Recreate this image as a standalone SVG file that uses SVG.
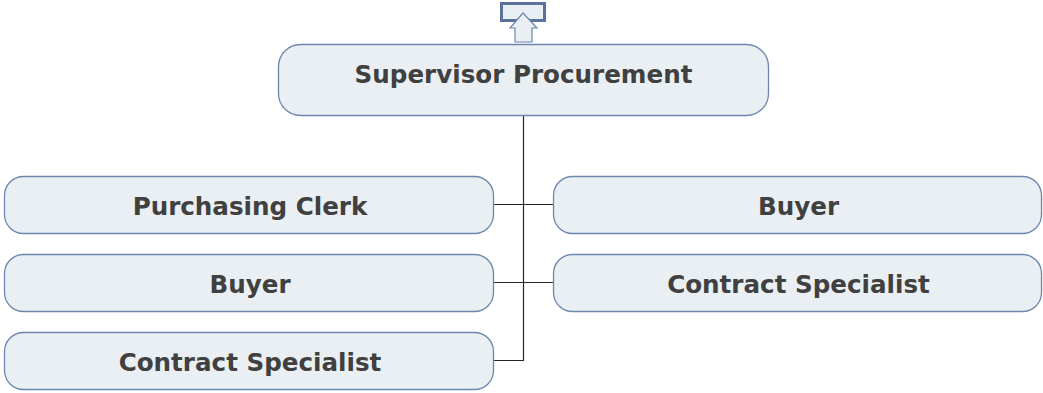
<svg xmlns="http://www.w3.org/2000/svg" width="1043" height="393" viewBox="0 0 1043 393">
<style>
.box{fill:#e9eff3;stroke:#6d86ad;stroke-width:1.3}
.t{font-family:"DejaVu Sans",sans-serif;font-weight:bold;font-size:24.6px;fill:#404040;text-anchor:middle}
.c{stroke:#262626;stroke-width:1.2;fill:none}
</style>
<rect width="1043" height="393" fill="#ffffff"/>
<g id="up-icon">
<rect x="501.5" y="3.5" width="43" height="17" fill="#e9eff3" stroke="#5c729c" stroke-width="3"/>
<polygon points="523,13 537,28 532,28 532,42 515,42 515,28 510,28" fill="#e9eff3" stroke="#6d86ad" stroke-width="1.2"/>
</g>
<g id="connectors">
<path class="c" d="M523.5,116 V360.5 H494"/>
<path class="c" d="M494,204.5 H553"/>
<path class="c" d="M494,282.5 H553"/>
</g>
<g id="n0"><rect class="box" x="278.5" y="44.5" width="490" height="71" rx="22"/><text class="t" x="523.5" y="82.5">Supervisor Procurement</text></g>
<g id="n1"><rect class="box" x="4.5" y="176.5" width="489" height="57" rx="19"/><text class="t" x="250" y="214.5">Purchasing Clerk</text></g>
<g id="n2"><rect class="box" x="4.5" y="254.5" width="489" height="57" rx="19"/><text class="t" x="250" y="292.5">Buyer</text></g>
<g id="n3"><rect class="box" x="4.5" y="332.5" width="489" height="57" rx="19"/><text class="t" x="250" y="370.5">Contract Specialist</text></g>
<g id="n4"><rect class="box" x="553.5" y="176.5" width="488" height="57" rx="19"/><text class="t" x="798.5" y="214.5">Buyer</text></g>
<g id="n5"><rect class="box" x="553.5" y="254.5" width="488" height="57" rx="19"/><text class="t" x="798.5" y="292.5">Contract Specialist</text></g>
</svg>
